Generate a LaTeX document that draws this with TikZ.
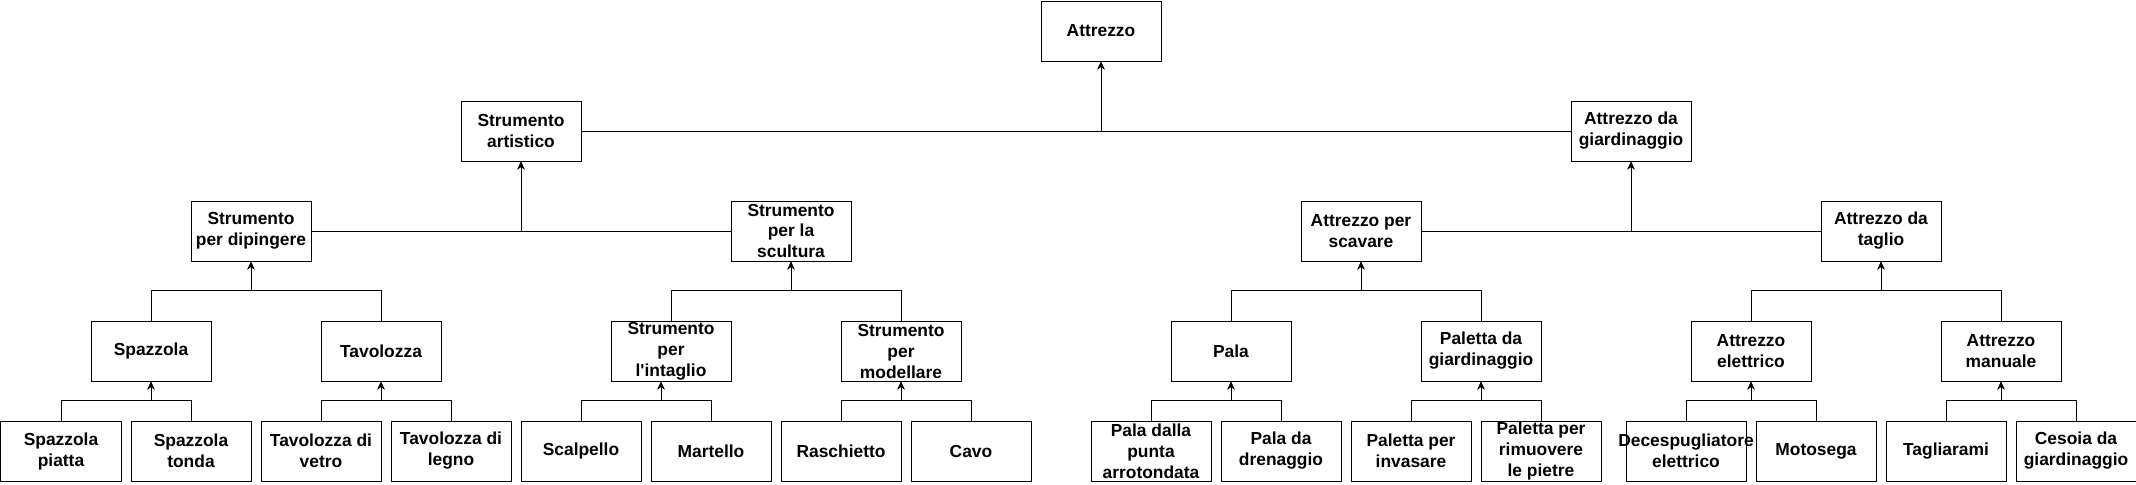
\documentclass[tikz,border=0pt]{standalone}
\usepackage{fontspec}
\setmainfont{Liberation Sans}
\usetikzlibrary{arrows.meta}

\newcommand\toolfont{\fontsize{8.7}{10.5}\selectfont\bfseries}

\begin{document}
\begin{tikzpicture}[x=0.5pt, y=-0.5pt, line width=0.5pt,
    nodes={font=\toolfont},
    tool/.style={draw, minimum width=60pt, minimum height=30pt, inner sep=0pt,
      label={[align=center]center:#1}},
    link/.style={-{Stealth[length=4pt,width=3.6pt]}}]
  \useasboundingbox (-1,-1) rectangle (2135,483);
  % Boxes, one row per level (coordinates in pixels of the sheet)
  \foreach \name/\x/\y/\txt in {
      attrezzo/1100/30/Attrezzo,
      artistico/520/130/{Strumento\\artistico},
      giardinaggio/1630/130/{Attrezzo da\\giardinaggio},
      dipingere/250/230/{Strumento\\per dipingere},
      scultura/790/230/{Strumento\\per la\\scultura},
      scavare/1360/230/{Attrezzo per\\scavare},
      taglio/1880/230/{Attrezzo da\\taglio},
      spazzola/150/350/Spazzola,
      tavolozza/380/350/Tavolozza,
      intaglio/670/350/{Strumento\\per\\l\textquotesingle intaglio},
      modellare/900/350/{Strumento\\per\\modellare},
      pala/1230/350/Pala,
      paletta/1480/350/{Paletta da\\giardinaggio},
      elettrico/1750/350/{Attrezzo\\elettrico},
      manuale/2000/350/{Attrezzo\\manuale},
      piatta/60/450/{Spazzola\\piatta},
      tonda/190/450/{Spazzola\\tonda},
      vetro/320/450/{Tavolozza di\\vetro},
      legno/450/450/{Tavolozza di\\legno},
      scalpello/580/450/Scalpello,
      martello/710/450/Martello,
      raschietto/840/450/Raschietto,
      cavo/970/450/Cavo,
      arrotondata/1150/450/{Pala dalla\\punta\\arrotondata},
      drenaggio/1280/450/{Pala da\\drenaggio},
      invasare/1410/450/{Paletta per\\invasare},
      pietre/1540/450/{Paletta per\\rimuovere\\le pietre},
      decespugliatore/1685/450/{Decespugliatore\\elettrico},
      motosega/1815/450/Motosega,
      tagliarami/1945/450/Tagliarami,
      cesoia/2075/450/{Cesoia da\\giardinaggio}%
    } {
      \node[tool=\txt] (\name) at (\x,\y) {};
    };
  % Side links: child beside the line, then up to the parent
  \draw[link] (artistico.east) -| (attrezzo.south);
  \draw[link] (giardinaggio.west) -| (attrezzo.south);
  \draw[link] (dipingere.east) -| (artistico.south);
  \draw[link] (scultura.west) -| (artistico.south);
  \draw[link] (scavare.east) -| (giardinaggio.south);
  \draw[link] (taglio.west) -| (giardinaggio.south);
  % Bracket links: up from the child, across, up to the parent
  \foreach \child/\parent/\rise in {
      spazzola/dipingere/30, tavolozza/dipingere/30,
      intaglio/scultura/30, modellare/scultura/30,
      pala/scavare/30, paletta/scavare/30,
      elettrico/taglio/30, manuale/taglio/30,
      piatta/spazzola/20, tonda/spazzola/20,
      vetro/tavolozza/20, legno/tavolozza/20,
      raschietto/modellare/20, cavo/modellare/20,
      arrotondata/pala/20, drenaggio/pala/20,
      invasare/paletta/20, pietre/paletta/20,
      decespugliatore/elettrico/20, motosega/elettrico/20,
      tagliarami/manuale/20, cesoia/manuale/20%
    } {
      \draw[link] (\child.north) -- ++(0,-\rise) -| (\parent.south);
    };
  % l'intaglio gets its arrow a little left of centre
  \draw[link] (scalpello.north) -- ++(0,-20) -| ([xshift=-5pt]intaglio.south);
  \draw[link] (martello.north) -- ++(0,-20) -| ([xshift=-5pt]intaglio.south);
\end{tikzpicture}
\end{document}
